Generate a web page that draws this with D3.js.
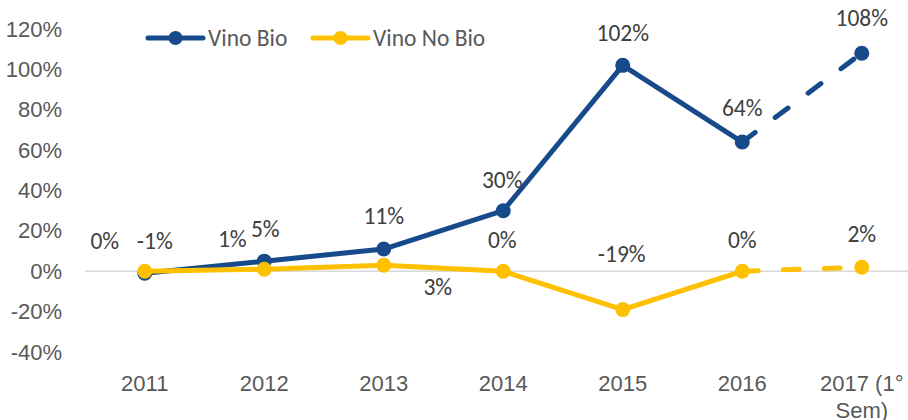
<!DOCTYPE html>
<html><head><meta charset="utf-8">
<script src="https://cdn.jsdelivr.net/npm/d3@7"></script>
<style>
html,body{margin:0;padding:0;background:#fff;overflow:hidden}
svg{display:block;font-family:Carlito,Lato,"Liberation Sans",sans-serif}
</style></head>
<body><svg id="chart" width="908" height="420"></svg>
<script>
const categories = ["2011","2012","2013","2014","2015","2016","2017 (1° Sem)"];
const vinoBio = [-1, 5, 11, 30, 102, 64, 108];
const vinoNoBio = [0, 1, 3, 0, -19, 0, 2];
const yTicks = [-40, -20, 0, 20, 40, 60, 80, 100, 120];
const seriesNames = ["Vino Bio", "Vino No Bio"];

const colors = ["#174A8B", "#FFC000"];
const textColor = "#595959";
const axisFont = 22;
const labelFont = 23.5;
// label offsets (dx, dy) relative to each point
const bioOffsets = [[10,-32],[1,-32],[0,-33],[-1,-31],[0,-32],[0,-34],[0,-35]];
const noBioOffsets = [[-40,-30],[-32,-30],[54,22],[-1,-31],[-1,-56],[0,-31],[0,-33]];

const svg = d3.select("#chart");
const left = 85, step = 119.5;
const x = d3.scaleBand().domain(categories).range([left, left + step*categories.length]).padding(0);
const cx = d => x(d) + x.bandwidth()/2;
const y = d3.scaleLinear().domain([-40, 120]).range([352, 29]);

// zero gridline
svg.append("line").attr("x1", left).attr("x2", 908).attr("y1", y(0)).attr("y2", y(0))
  .attr("stroke", "#d9d9d9").attr("stroke-width", 1.5);

// y axis
const ya = svg.append("g").attr("transform", `translate(${left},0)`)
  .call(d3.axisLeft(y).tickValues(yTicks).tickFormat(d => d + "%").tickSize(0).tickPadding(23));
ya.select(".domain").remove();
ya.selectAll("text").attr("fill", textColor).attr("font-size", axisFont).attr("font-family", null);

// x axis
const xa = svg.append("g").attr("transform", `translate(0,352)`)
  .call(d3.axisBottom(x).tickSize(0));
xa.select(".domain").remove();
xa.selectAll("text").each(function(d){
  const t = d3.select(this);
  t.text(null).attr("fill", textColor).attr("font-size", axisFont).attr("font-family", null).attr("y", 0).attr("dy", null);
  const words = d.split(" ");
  const lines = [];
  let cur = "";
  const maxW = x.bandwidth() - 20;
  const probe = t.append("tspan");
  words.forEach(w => {
    const test = cur ? cur + " " + w : w;
    probe.text(test);
    if (probe.node().getComputedTextLength() > maxW && cur) { lines.push(cur); cur = w; }
    else cur = test;
  });
  lines.push(cur);
  probe.remove();
  lines.forEach((ln, i) => {
    t.append("tspan").attr("x", 0).attr("y", 39 + i*27).text(ln);
  });
});

// lines
function drawSeries(vals, color) {
  const pts = categories.map((c, i) => [cx(c), y(vals[i])]);
  const line = d3.line();
  svg.append("path").attr("d", line(pts.slice(0, 6))).attr("fill", "none")
    .attr("stroke", color).attr("stroke-width", 5).attr("stroke-linejoin", "round").attr("stroke-linecap", "round");
  svg.append("path").attr("d", line(pts.slice(5))).attr("fill", "none")
    .attr("stroke", color).attr("stroke-width", 5).attr("stroke-linecap", "round")
    .attr("stroke-dasharray", "16,25");
  svg.selectAll(null).data(pts).enter().append("circle")
    .attr("cx", d => d[0]).attr("cy", d => d[1]).attr("r", 7.5).attr("fill", color);
}
drawSeries(vinoBio, colors[0]);
drawSeries(vinoNoBio, colors[1]);

// data labels
function drawLabels(vals, offs) {
  svg.selectAll(null).data(vals).enter().append("text")
    .attr("x", (d, i) => cx(categories[i]) + offs[i][0])
    .attr("y", (d, i) => y(d) + offs[i][1])
    .attr("text-anchor", "middle").attr("dominant-baseline", "central")
    .attr("fill", "#404040").attr("font-size", labelFont)
    .text(d => d + "%");
}
drawLabels(vinoBio, bioOffsets);
drawLabels(vinoNoBio, noBioOffsets);

// legend
const legendX = [148, 313];
seriesNames.forEach((n, i) => {
  const g = svg.append("g").attr("transform", `translate(${legendX[i]},38)`);
  g.append("line").attr("x1", 0).attr("x2", 55).attr("stroke", colors[i]).attr("stroke-width", 5).attr("stroke-linecap", "round");
  g.append("circle").attr("cx", 27.5).attr("r", 7).attr("fill", colors[i]);
  g.append("text").attr("x", 60).attr("dominant-baseline", "central").attr("fill", textColor).attr("font-size", labelFont).text(n);
});
</script></body></html>
